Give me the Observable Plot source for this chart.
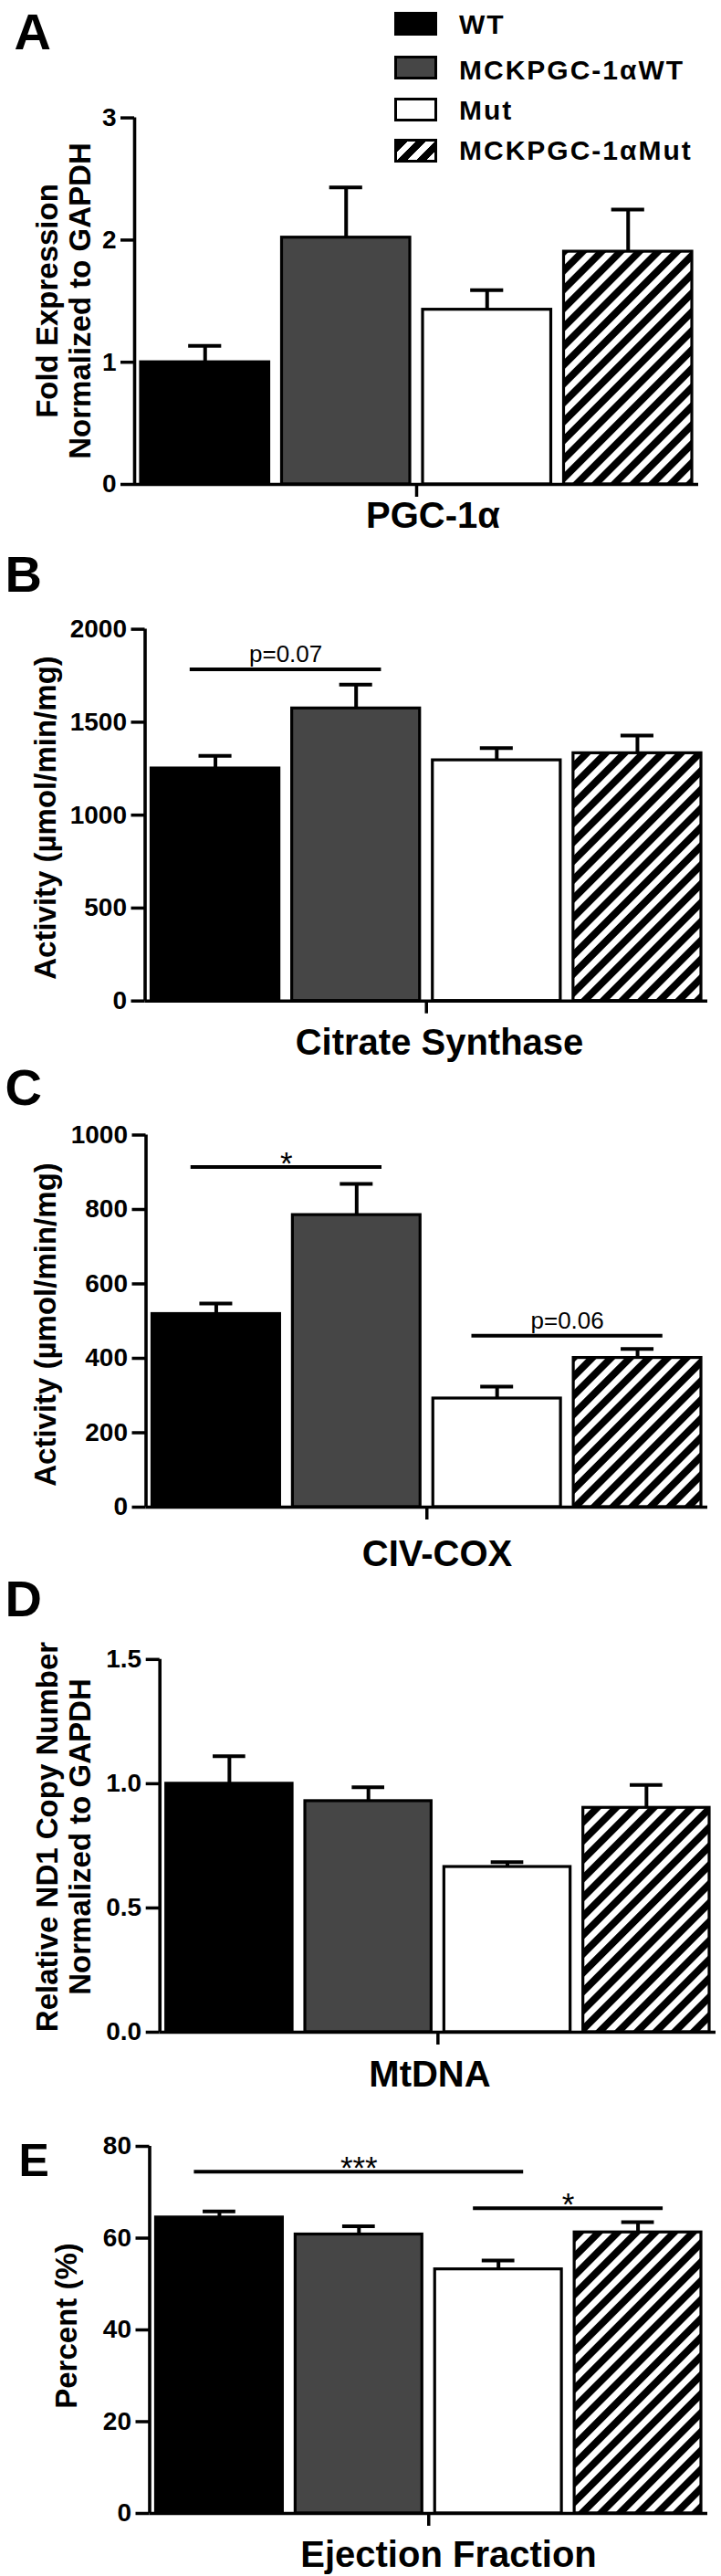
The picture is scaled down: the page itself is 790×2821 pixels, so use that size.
<!DOCTYPE html>
<html><head><meta charset="utf-8">
<script src="https://cdn.jsdelivr.net/npm/d3@7"></script>
<script src="https://cdn.jsdelivr.net/npm/@observablehq/plot@0.6"></script>
<style>
body{margin:0;background:#fff;}
#root{position:relative;width:790px;height:2821px;font-family:"Liberation Sans",Arial,sans-serif;background:#fff;}
#root svg.plotpanel{position:absolute;left:0;}
g[aria-label="y-axis tick label"] text{font-weight:bold;}
.legend{position:absolute;left:0;top:0;width:790px;height:200px;z-index:2;}
.sw{position:absolute;left:432px;width:41px;height:20px;border:3px solid #000;}
.lt{position:absolute;left:503px;font-weight:bold;font-size:30px;letter-spacing:2px;line-height:30px;white-space:nowrap;color:#000;}
</style></head><body>
<svg width="0" height="0" style="position:absolute">
<defs><pattern id="hatch" patternUnits="userSpaceOnUse" width="14.6" height="14.6" patternTransform="rotate(45)">
<rect width="14.6" height="14.6" fill="#fff"/><rect width="7.8" height="14.6" fill="#000"/></pattern></defs></svg>
<div id="root"></div>
<script>
// ---------- DATA ----------
const groups = ["WT", "MCKPGC-1αWT", "Mut", "MCKPGC-1αMut"];

// A: PGC-1α fold expression
const pgcMean = [1.00, 2.02, 1.43, 1.905];
const pgcErr  = [0.135, 0.41, 0.16, 0.345];
const pgcTicks = [0, 1, 2, 3];

// B: Citrate synthase activity
const csMean = [1251, 1574, 1295, 1333];
const csErr  = [68, 128, 65, 95];
const csTicks = [0, 500, 1000, 1500, 2000];
const csSig = [{from: "WT", to: "MCKPGC-1αWT", y: 1784, label: "p=0.07"}];

// C: CIV-COX activity
const coxMean = [519, 785, 292, 401];
const coxErr  = [28, 84, 32, 24];
const coxTicks = [0, 200, 400, 600, 800, 1000];
const coxSig = [
  {from: "WT", to: "MCKPGC-1αWT", y: 914, label: "*"},
  {from: "Mut", to: "MCKPGC-1αMut", y: 461, label: "p=0.06"}
];

// D: MtDNA copy number
const mtMean = [1.00, 0.93, 0.665, 0.903];
const mtErr  = [0.111, 0.056, 0.019, 0.092];
const mtTicks = [0, 0.5, 1.0, 1.5];

// E: Ejection fraction
const efMean = [64.5, 60.8, 53.2, 61.25];
const efErr  = [1.3, 1.8, 1.9, 2.25];
const efTicks = [0, 20, 40, 60, 80];
const efSig = [
  {from: "WT", to: "Mut", y: 74.5, label: "***"},
  {from: "Mut", to: "MCKPGC-1αMut", y: 66.5, label: "*"}
];

// ---------- STYLE / LAYOUT ----------
const FONT = '"Liberation Sans", Arial, Helvetica, sans-serif';
const FILLS = ["#000000", "#464646", "#ffffff", "url(#hatch)"];

const panels = [
  {letter: "A", xlabel: "PGC-1α", ylabel: "Fold Expression\nNormalized to GAPDH",
   mean: pgcMean, err: pgcErr, ticks: pgcTicks, fmt: d3.format("d"), sig: [],
   L: {top: 0, height: 595, yMaxPx: 128.6, y0Px: 530, axisX: 147, axisEnd: 765,
       letterX: 15, letterY: 14, letterSize: 56, ylX: 69, ylY: 329, xlX: 474, xlY: 577}},
  {letter: "B", xlabel: "Citrate Synthase", ylabel: "Activity (µmol/min/mg)",
   mean: csMean, err: csErr, ticks: csTicks, fmt: d3.format("d"), sig: csSig,
   L: {top: 595, height: 565, yMaxPx: 688.6, y0Px: 1095.7, axisX: 158.5, axisEnd: 775,
       letterX: 5, letterY: 608, letterSize: 56, ylX: 49, ylY: 895, xlX: 481, xlY: 1154}},
  {letter: "C", xlabel: "CIV-COX", ylabel: "Activity (µmol/min/mg)",
   mean: coxMean, err: coxErr, ticks: coxTicks, fmt: d3.format("d"), sig: coxSig,
   L: {top: 1160, height: 560, yMaxPx: 1242.5, y0Px: 1650, axisX: 159.5, axisEnd: 775,
       letterX: 5, letterY: 1170, letterSize: 56, ylX: 49, ylY: 1450, xlX: 478.5, xlY: 1714}},
  {letter: "D", xlabel: "MtDNA", ylabel: "Relative ND1 Copy Number\nNormalized to GAPDH",
   mean: mtMean, err: mtErr, ticks: mtTicks, fmt: d3.format(".1f"), sig: [],
   L: {top: 1720, height: 570, yMaxPx: 1816.8, y0Px: 2225, axisX: 174.7, axisEnd: 784,
       letterX: 5, letterY: 1730, letterSize: 56, ylX: 69, ylY: 2011, xlX: 470.5, xlY: 2284}},
  {letter: "E", xlabel: "Ejection Fraction", ylabel: "Percent (%)",
   mean: efMean, err: efErr, ticks: efTicks, fmt: d3.format("d"), sig: efSig,
   L: {top: 2290, height: 531, yMaxPx: 2350, y0Px: 2752, axisX: 163.5, axisEnd: 775,
       letterX: 20, letterY: 2347, letterSize: 50, ylX: 72, ylY: 2546.5, xlX: 491, xlY: 2810}}
];

const root = document.getElementById("root");

function makePanel(p) {
  const L = p.L;
  const rows = groups.map((g, i) => ({group: g, i, mean: p.mean[i], err: p.err[i]}));
  const sig = p.sig.map(s => ({...s, x1: groups.indexOf(s.from) + 0.32, x2: groups.indexOf(s.to) + 0.68}));
  const ymax = p.ticks[p.ticks.length - 1];
  const marginTop = L.yMaxPx - L.top;
  const marginBottom = L.top + L.height - L.y0Px;
  const marginLeft = L.axisX;
  const marginRight = 790 - L.axisEnd;
  const frameCX = (L.axisX + L.axisEnd) / 2;
  const frameCY = (L.yMaxPx + L.y0Px) / 2;
  const capHalf = 0.117;

  const svg = Plot.plot({
    width: 790, height: L.height,
    marginTop, marginBottom, marginLeft, marginRight,
    style: {fontFamily: FONT, color: "#000", background: "transparent", overflow: "visible"},
    x: {type: "linear", domain: [0, 4], axis: null},
    y: {type: "linear", domain: [0, ymax], axis: null},
    color: {type: "ordinal", domain: groups, range: FILLS},
    marks: [
      Plot.rect(rows, {x1: d => d.i, x2: d => d.i + 1, y1: 0, y2: "mean", fill: "group",
        stroke: "#000", strokeWidth: 3.2, insetLeft: 7, insetRight: 7}),
      Plot.ruleX(rows, {x: d => d.i + 0.5, y1: "mean", y2: d => d.mean + d.err, strokeWidth: 4}),
      Plot.ruleY(rows, {y: d => d.mean + d.err, x1: d => d.i + 0.5 - capHalf, x2: d => d.i + 0.5 + capHalf, strokeWidth: 4}),
      Plot.ruleY([0], {strokeWidth: 3.6}),
      Plot.ruleX([0], {y1: 0, y2: ymax, strokeWidth: 3.6}),
      Plot.axisY({ticks: p.ticks, tickFormat: p.fmt, tickSize: 15, tickPadding: 5,
        fontSize: 28, fontWeight: "bold", strokeWidth: 3.5, label: null}),
      Plot.axisX({ticks: [2], tickSize: 14, tickFormat: () => "", strokeWidth: 3.5, label: null}),
      Plot.ruleY(sig, {y: "y", x1: "x1", x2: "x2", strokeWidth: 4}),
      Plot.text(sig, {filter: d => d.label.startsWith("p"), x: d => (d.x1 + d.x2) / 2, y: "y",
        text: "label", fontSize: 26, fontWeight: "normal", lineAnchor: "bottom", dy: -8}),
      Plot.text(sig, {filter: d => !d.label.startsWith("p"), x: d => (d.x1 + d.x2) / 2, y: "y",
        text: "label", fontSize: 35, fontWeight: "normal", lineAnchor: "bottom", dy: 8}),
      Plot.text([p.ylabel], {frameAnchor: "left", rotate: -90, dx: L.ylX - L.axisX, dy: L.ylY - frameCY,
        fontSize: 33, fontWeight: "bold", lineHeight: 1.09, textAnchor: "middle", lineAnchor: "middle"}),
      Plot.text([p.letter], {frameAnchor: "top-left", dx: L.letterX - L.axisX, dy: L.letterY - L.yMaxPx,
        fontSize: L.letterSize, fontWeight: "bold", textAnchor: "start", lineAnchor: "top"}),
      Plot.text([p.xlabel], {frameAnchor: "bottom", dx: L.xlX - frameCX, dy: L.xlY - L.y0Px,
        fontSize: 40, fontWeight: "bold", textAnchor: "middle", lineAnchor: "bottom", ariaLabel: "x-label"})
    ]
  });
  svg.classList.add("plotpanel");
  svg.style.top = L.top + "px";
  svg.querySelectorAll('g[aria-label="x-label"] text').forEach(t => t.setAttribute("letter-spacing", "2"));
  root.appendChild(svg);
}

panels.forEach(makePanel);

// Legend (HTML, above panel A)
const swStyles = [
  "background:#000;",
  "background:#464646;",
  "background:#fff;",
  "background:repeating-linear-gradient(135deg,#000 0 7.8px,#fff 7.8px 14.6px);"
];
const swTops = [13, 61, 107, 152];
const txtTops = [12, 62, 106, 150];
const leg = document.createElement("div");
leg.className = "legend";
groups.forEach((g, i) => {
  const s = document.createElement("div");
  s.className = "sw";
  s.style.cssText = swStyles[i] + "top:" + swTops[i] + "px;";
  leg.appendChild(s);
  const t = document.createElement("div");
  t.className = "lt";
  t.style.top = txtTops[i] + "px";
  t.textContent = g;
  leg.appendChild(t);
});
root.appendChild(leg);
</script>
</body></html>
